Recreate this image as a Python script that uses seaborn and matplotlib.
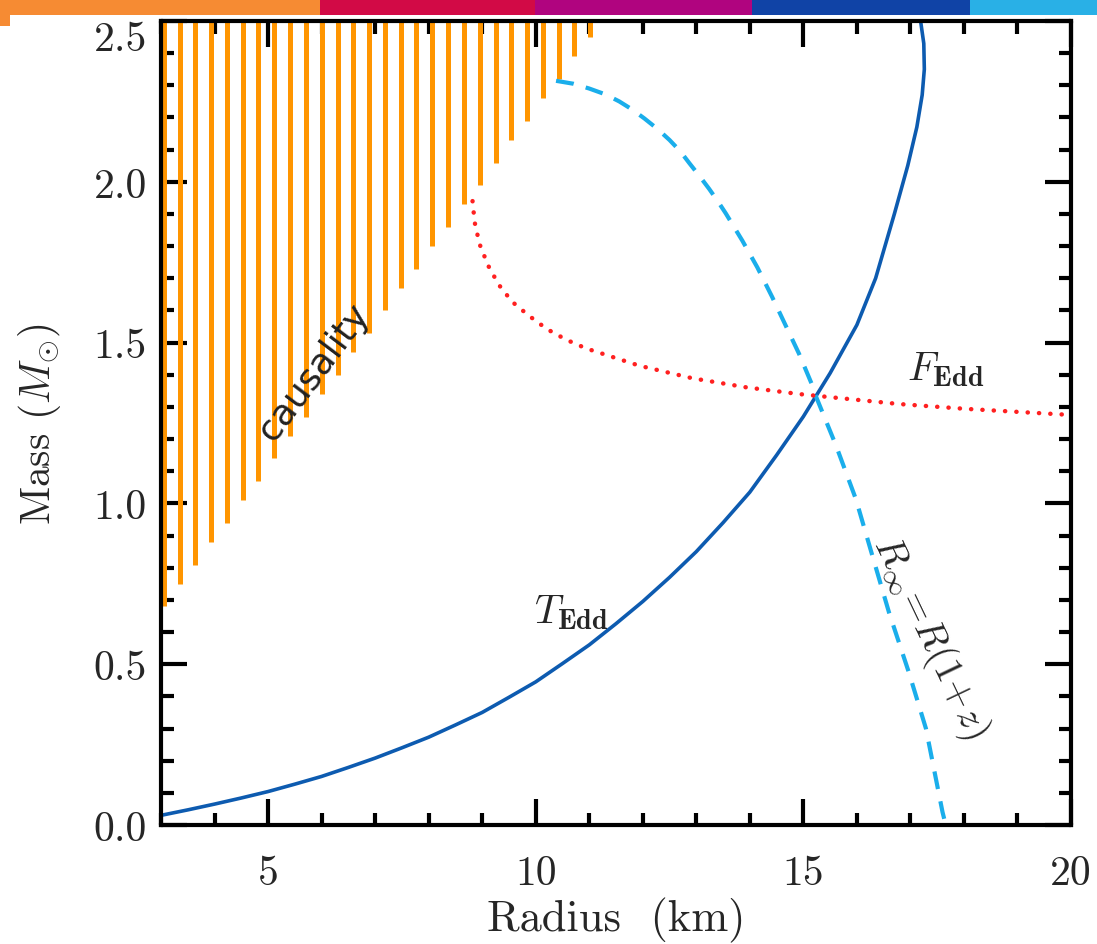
import seaborn as sns
import matplotlib.pyplot as plt
from matplotlib.patches import Rectangle
from matplotlib.ticker import MultipleLocator

# ---- data ----
# causality hatching: x of each vertical line and where it stops (bottom)
causal_r = [3.05, 3.35, 3.64, 3.94, 4.23, 4.53, 4.82, 5.12, 5.41, 5.71,
            6.00, 6.30, 6.59, 6.89, 7.18, 7.48, 7.77, 8.07, 8.36, 8.66,
            8.95, 9.25, 9.54, 9.84, 10.13, 10.43, 10.72, 11.02]
causal_m = [0.68, 0.75, 0.81, 0.88, 0.94, 1.01, 1.07, 1.14, 1.21, 1.27,
            1.34, 1.40, 1.47, 1.53, 1.60, 1.67, 1.73, 1.80, 1.86, 1.93,
            1.99, 2.06, 2.13, 2.19, 2.26, 2.32, 2.39, 2.45]

# T_Edd constraint (solid blue)
tedd_r = [3.0, 3.5, 4.0, 4.5, 5.0, 5.5, 6.0, 6.5, 7.0, 7.5, 8.0, 8.5, 9.0,
          9.5, 10.0, 10.5, 11.0, 11.5, 12.0, 12.5, 13.0, 13.5, 14.0, 14.5,
          15.0, 15.5, 16.0, 16.35, 16.7, 16.95, 17.12, 17.22, 17.26, 17.25,
          17.19, 17.15]
tedd_m = [0.03, 0.047, 0.065, 0.084, 0.104, 0.127, 0.151, 0.179, 0.208,
          0.24, 0.273, 0.311, 0.35, 0.397, 0.445, 0.502, 0.56, 0.626, 0.695,
          0.77, 0.85, 0.94, 1.035, 1.15, 1.27, 1.405, 1.555, 1.70, 1.90,
          2.05, 2.17, 2.27, 2.35, 2.43, 2.50, 2.54]

# R_inf = R(1+z) (dashed cyan)
rinf_r = [10.38, 10.7, 11.0, 11.3, 11.56, 11.8, 12.03, 12.27, 12.5, 12.7,
          12.87, 13.05, 13.24, 13.4, 13.55, 13.86, 14.14, 14.42, 14.67,
          14.92, 15.17, 15.23, 15.61, 15.98, 16.29, 16.60, 16.97, 17.29,
          17.60, 17.66]
rinf_m = [2.314, 2.305, 2.29, 2.272, 2.25, 2.225, 2.197, 2.165, 2.13, 2.095,
          2.058, 2.02, 1.978, 1.94, 1.902, 1.817, 1.734, 1.641, 1.553,
          1.465, 1.366, 1.335, 1.18, 1.014, 0.837, 0.661, 0.475, 0.30,
          0.04, 0.0]

# F_Edd constraint (dotted red)
fedd_r = [8.82, 8.86, 8.95, 9.11, 9.31, 9.56, 9.87, 10.21, 10.57, 10.94,
          11.94, 12.93, 13.93, 14.92, 16.79, 18.03, 20.0]
fedd_m = [1.94, 1.874, 1.807, 1.74, 1.68, 1.627, 1.584, 1.542, 1.509,
          1.482, 1.428, 1.389, 1.361, 1.340, 1.309, 1.294, 1.275]

x_ticks = [5, 10, 15, 20]
x_tick_labels = ['5', '10', '15', '20']
y_ticks = [0.0, 0.5, 1.0, 1.5, 2.0, 2.5]
y_tick_labels = ['0.0', '0.5', '1.0', '1.5', '2.0', '2.5']

stripe_colors = ['#f68b33', '#d20a46', '#b0047f', '#1043a6', '#29b0e6']
stripe_edges = [0, 320, 535, 752, 970, 1097]

sns.set_theme(style='ticks')
plt.rcParams['font.family'] = ['cmr10', 'DejaVu Serif']
plt.rcParams['mathtext.fontset'] = 'cm'
plt.rcParams['axes.formatter.use_mathtext'] = True

W, H = 1097, 945
fig = plt.figure(figsize=(W / 100, H / 100), dpi=100)
ax = fig.add_axes([161 / W, 1 - 826 / H, (1071 - 161) / W, (826 - 22) / H])

# causality region
ax.vlines(causal_r, causal_m, 2.5, color='#ff9500', lw=3.6, zorder=1)

sns.lineplot(x=tedd_r, y=tedd_m, sort=False, estimator=None,
             color='#0d5bb0', lw=2.6, ax=ax, zorder=3)
sns.lineplot(x=rinf_r, y=rinf_m, sort=False, estimator=None,
             color='#1aaeeb', lw=3.0, ax=ax, zorder=3,
             linestyle=(0, (4.3, 3.0)))
sns.lineplot(x=fedd_r, y=fedd_m, sort=False, estimator=None,
             color='#ff2020', lw=3.2, ax=ax, zorder=3,
             linestyle=(0, (0.05, 2.5)), dash_capstyle='round')

ax.set_xlim(3, 20)
ax.set_ylim(0, 2.5)
ax.set_xticks(x_ticks, labels=x_tick_labels)
ax.set_yticks(y_ticks, labels=y_tick_labels)
ax.xaxis.set_minor_locator(MultipleLocator(1))
ax.yaxis.set_minor_locator(MultipleLocator(0.1))
ax.tick_params(which='both', direction='in', top=True, right=True,
               width=3, color='black', labelsize=30)
ax.tick_params(which='major', length=19)
ax.tick_params(which='minor', length=9)
ax.tick_params(axis='x', pad=21)
ax.tick_params(axis='y', pad=10)
for s in ax.spines.values():
    s.set_linewidth(3)
    s.set_color('black')
    s.set_zorder(5)
ax.set_ylabel(r'Mass ($M_{\odot}$)', fontsize=30, labelpad=22)
ax.set_xlabel('Radius  (km)', fontsize=32, labelpad=4)

# annotations
ax.text(5.85, 1.41, 'causality', fontsize=26, family='DejaVu Sans',
        rotation=53, ha='center', va='center', rotation_mode='anchor',
        color='#222222')
ax.text(17.65, 1.42, r'$F_{\mathbf{Edd}}$', fontsize=29,
        ha='center', va='center')
ax.text(10.67, 0.665, r'$T_{\mathbf{Edd}}$', fontsize=29,
        ha='center', va='center')
ax.text(17.37, 0.585, r'$R_{\infty}\!=\!R(1\!+\!z)$', fontsize=28,
        rotation=-64.5, ha='center', va='center', rotation_mode='anchor')

# decorative stripe on top
for c, x0, x1 in zip(stripe_colors, stripe_edges[:-1], stripe_edges[1:]):
    fig.add_artist(Rectangle((x0 / W, 1 - 16 / H), (x1 - x0) / W, 16 / H,
                             transform=fig.transFigure, color=c, lw=0))
fig.add_artist(Rectangle((0, 1 - 27 / H), 10 / W, 11 / H,
                         transform=fig.transFigure, color=stripe_colors[0], lw=0))

# push the top y label below the frame edge, as in the original
fig.canvas.draw()
ax.yaxis.get_major_ticks()[-1].label1.set_verticalalignment('top')

fig.savefig('out.png', dpi=100)
